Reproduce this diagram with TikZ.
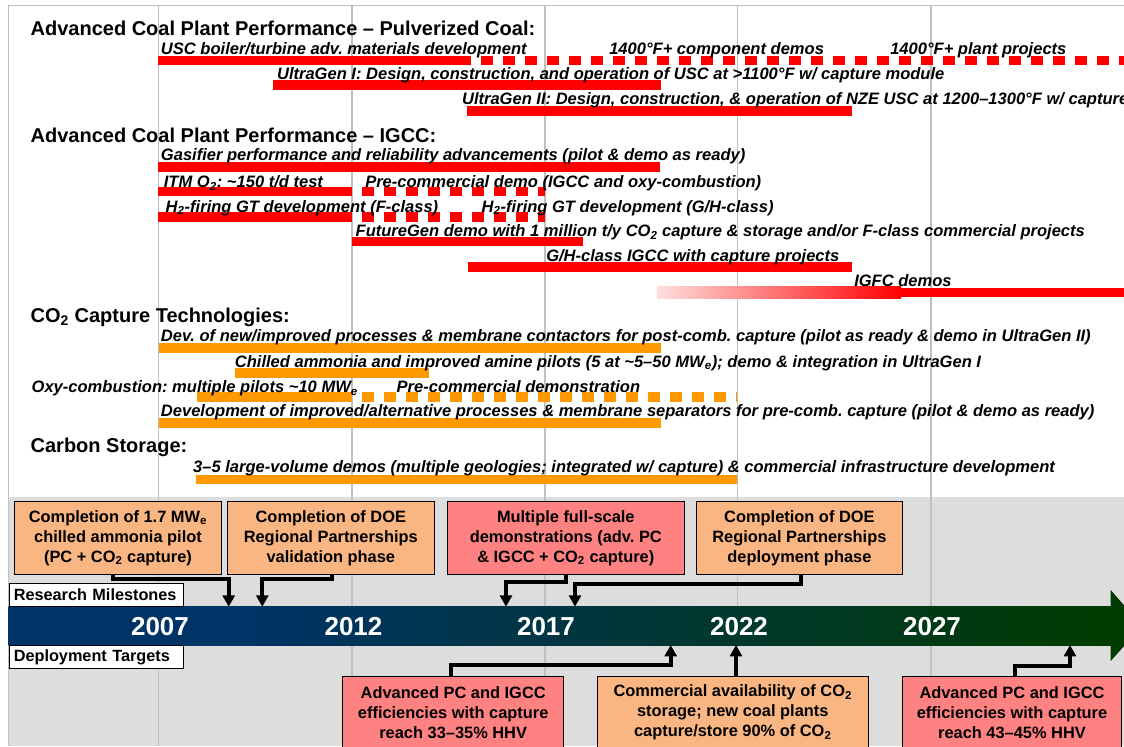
\documentclass[tikz,border=0pt]{standalone}
\usepackage{fontspec}
\setmainfont{Liberation Sans}
\usetikzlibrary{arrows.meta}
\frenchspacing
\definecolor{barorange}{RGB}{255,153,0}
\definecolor{boxorange}{RGB}{250,182,130}
\definecolor{boxpink}{RGB}{255,130,130}
\definecolor{gridgray}{RGB}{192,192,192}
\definecolor{panelgray}{RGB}{221,221,221}
\definecolor{navy}{RGB}{0,51,102}
\definecolor{deepgreen}{RGB}{0,60,0}
\pgfdeclarehorizontalshading{bandshade}{100bp}{color(0bp)=(navy); color(36bp)=(navy);
  color(75bp)=(deepgreen); color(100bp)=(deepgreen)}

\begin{document}
\begin{tikzpicture}[x=0.75pt, y=-0.75pt,
  head/.style={anchor=base west, inner sep=0pt, font=\fontsize{15}{18}\selectfont\bfseries},
  task/.style={anchor=base west, inner sep=0pt, font=\fontsize{12.4}{14}\selectfont\bfseries\itshape},
  redbar/.style={draw=red, line width=7pt},
  orbar/.style={draw=barorange, line width=7pt},
  later/.style={dash pattern=on 9pt off 7.5pt, dash phase=9pt},
  mbox/.style={draw=black, line width=0.75pt, align=center, inner sep=1pt,
    minimum height=54.5pt, font=\fontsize{12.3}{15}\selectfont\bfseries},
  tag/.style={draw=black, fill=white, line width=0.75pt, inner xsep=3pt, inner ysep=0pt,
    minimum height=17pt, text width=124pt, align=left, font=\fontsize{12.2}{14}\selectfont\bfseries},
  year/.style={text=white, inner sep=0pt, font=\fontsize{19.5}{22}\selectfont\bfseries},
  link/.style={line width=3pt, -{Triangle[width=9pt,length=8.5pt]}}]
\useasboundingbox (0,0) rectangle (1124,746);
% Milestone panel, frame and year grid.
\fill[panelgray] (8.6,497) rectangle (1124,746);
\draw[gridgray, line width=1.1pt] (1124,5.7) -- (8.6,5.7) -- (8.6,746);
\foreach \gx in {158.3,352,544.8,737.7,931}
  \draw[gridgray, line width=1.1pt] (\gx,5.7) -- (\gx,746);

% Pulverized coal.
\node[head] (pc) at (30.4,35) {Advanced Coal Plant Performance – Pulverized Coal:};
\draw[redbar] (158,60.2) -- (470.7,60.2);
\draw[redbar, later] (470.7,60.2) -- (1130,60.2);
\node[task] (usc) at (160.7,54.3) {USC boiler/turbine adv. materials development};
\node[task] (usc2) at (609,54.3) {1400°F+ component demos};
\node[task] (usc3) at (890,54.3) {1400°F+ plant projects};
\draw[redbar] (272.9,85) -- (661.4,85);
\node[task] (ug1) at (276.8,79.2) {UltraGen I: Design, construction, and operation of USC at >1100°F w/ capture module};
\draw[redbar] (467,111) -- (851.8,111);
\node[task] (ug2) at (461.8,104.2) {UltraGen II: Design, construction, \& operation of NZE USC at 1200–1300°F w/ capture};

% IGCC.
\node[head] (igcc) at (30.4,142.7) {Advanced Coal Plant Performance – IGCC:};
\draw[redbar] (158,167) -- (660.4,167);
\node[task] (gas) at (160.7,160.5) {Gasifier performance and reliability advancements (pilot \& demo as ready)};
\draw[redbar] (158,191.5) -- (351.8,191.5);
\draw[redbar, later] (351.8,191.5) -- (544.6,191.5);
\node[task] (itm) at (163.6,187.5) {ITM O\textsubscript{2}: \textasciitilde150 t/d test};
\node[task] (itm2) at (365,187.5) {Pre-commercial demo (IGCC and oxy-combustion)};
\draw[redbar] (158,217) -- (351.8,217);
\draw[redbar, later] (351.8,217) -- (544.6,217);
\node[task] (h2f) at (165.4,212.2) {H\textsubscript{2}-firing GT development (F-class)};
\node[task] (h2g) at (481.4,212.2) {H\textsubscript{2}-firing GT development (G/H-class)};
\draw[redbar] (351.8,241.7) -- (582.5,241.7);
\node[task] (fg) at (355.4,236.5) {FutureGen demo with 1 million t/y CO\textsubscript{2} capture \& storage and/or F-class commercial projects};
\draw[redbar] (467.9,267) -- (851.8,267);
\node[task] (gh) at (546,261.5) {G/H-class IGCC with capture projects};
\shade[left color=red!13, right color=red] (657.7,286.7) rectangle (901,298);
\draw[redbar] (900.5,292.5) -- (1130,292.5);
\node[task] (igfc) at (854,286.7) {IGFC demos};

% CO2 capture.
\node[head] (co2) at (30.4,322.7) {CO\textsubscript{2} Capture Technologies:};
\draw[orbar] (159,348) -- (661.4,348);
\node[task] (post) at (160.7,341.5) {Dev. of new/improved processes \& membrane contactors for post-comb. capture (pilot as ready \& demo in UltraGen II)};
\draw[orbar] (234.6,373) -- (428.6,373);
\node[task] (amine) at (234.6,367.2) {Chilled ammonia and improved amine pilots (5 at \textasciitilde5–50 MW\textsubscript{e}); demo \& integration in UltraGen I};
\draw[orbar] (197,397) -- (351.8,397);
\draw[orbar, later] (351.8,397) -- (736.8,397);
\node[task] (oxy) at (31.4,392.8) {Oxy-combustion: multiple pilots \textasciitilde10 MW\textsubscript{e}};
\node[task] (oxy2) at (396.4,392.8) {Pre-commercial demonstration};
\draw[orbar] (159,423) -- (661.4,423);
\node[task] (pre) at (160.7,416.5) {Development of improved/alternative processes \& membrane separators for pre-comb. capture (pilot \& demo as ready)};

% Carbon storage.
\node[head] (store) at (30.4,452.7) {Carbon Storage:};
\draw[orbar] (196,479.7) -- (736.8,479.7);
\node[task] (demos) at (192.9,472.2) {3–5 large-volume demos (multiple geologies; integrated w/ capture) \& commercial infrastructure development};

% Timeline arrow.
\shade[shading=bandshade] (8.6,606.7) rectangle (1111,645);
\fill[deepgreen] (1110.7,590) -- (1142,626) -- (1110.7,661) -- cycle;
\foreach \yx/\yr in {160/2007,353.5/2012,546/2017,739/2022,932/2027}
  \node[year] (y\yr) at (\yx,626.5) {\yr};
\node[tag, anchor=south west] (rm) at (9.3,606.7) {Research Milestones};
\node[tag, anchor=north west] (dt) at (9.3,645) {Deployment Targets};
\coordinate (r1) at (228.7,606.7);
\coordinate (r2) at (262.3,606.7);
\coordinate (r3) at (506,606.7);
\coordinate (r4) at (575,606.7);
\coordinate (d1) at (670.7,645);
\coordinate (d2) at (736,645);
\coordinate (d3) at (1070,645);

% Research milestones.
\node[mbox, fill=boxorange, minimum width=155.8pt] (b1) at (118,538)
  {Completion of 1.7 MW\textsubscript{e}\\chilled ammonia pilot\\(PC + CO\textsubscript{2} capture)};
\node[mbox, fill=boxorange, minimum width=154.9pt] (b2) at (330.8,538)
  {Completion of DOE\\Regional Partnerships\\validation phase};
\node[mbox, fill=boxpink, minimum width=177.4pt] (b3) at (565.8,538)
  {Multiple full-scale\\demonstrations (adv. PC\\\& IGCC + CO\textsubscript{2} capture)};
\node[mbox, fill=boxorange, minimum width=153.9pt] (b4) at (799.4,538)
  {Completion of DOE\\Regional Partnerships\\deployment phase};
\draw[link] (b1.south -| 113.3,0) -- (113.3,579.3) -| (r1);
\draw[link] (b2.south -| 331.7,0) -- (331.7,579.3) -| (r2);
\draw[link] (b3.south -| 566,0) -- (566,582) -| (r3);
\draw[link] (b4.south -| 801.3,0) -- (801.3,584) -| (r4);

% Deployment targets.
\node[mbox, fill=boxpink, minimum width=165.5pt] (b5) at (453.2,712.7)
  {Advanced PC and IGCC\\efficiencies with capture\\reach 33–35\% HHV};
\node[mbox, fill=boxorange, minimum width=202.9pt] (b6) at (732.8,712.7)
  {Commercial availability of CO\textsubscript{2}\\storage; new coal plants\\capture/store 90\% of CO\textsubscript{2}};
\node[mbox, fill=boxpink, minimum width=164.6pt] (b7) at (1012,712.7)
  {Advanced PC and IGCC\\efficiencies with capture\\reach 43–45\% HHV};
\draw[link] (b5.north -| 451,0) -- (451,664.7) -| (d1);
\draw[link] (b6.north -| 736,0) -- (d2);
\draw[link] (b7.north -| 1014.7,0) -- (1014.7,666) -| (d3);
\end{tikzpicture}
\end{document}
